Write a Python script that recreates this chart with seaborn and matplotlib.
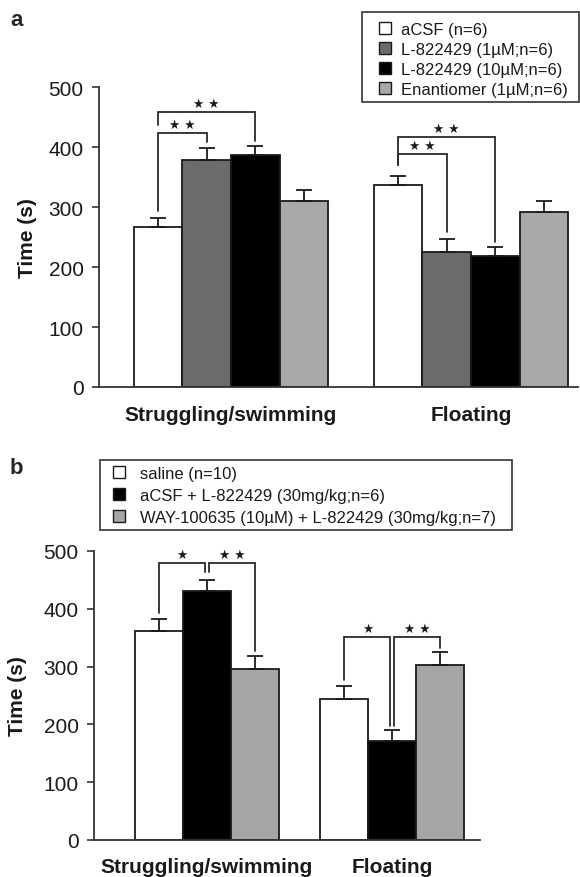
import matplotlib
matplotlib.use("Agg")
import matplotlib.pyplot as plt
import seaborn as sns
import pandas as pd
from matplotlib.patches import Patch, Rectangle

# ---------------- data ----------------
behaviors = ["Struggling/swimming", "Floating"]

groups_a = ["aCSF (n=6)", "L-822429 (1µM;n=6)", "L-822429 (10µM;n=6)", "Enantiomer (1µM;n=6)"]
colors_a = ["#ffffff", "#6b6b6b", "#000000", "#a9a9a9"]
means_a_struggling = [267, 378, 387, 310]
means_a_floating = [337, 225, 218, 291]
sem_a_struggling = [14, 21, 15, 18]
sem_a_floating = [15, 22, 16, 19]

groups_b = ["saline (n=10)", "aCSF + L-822429 (30mg/kg;n=6)",
            "WAY-100635 (10µM) + L-822429 (30mg/kg;n=7)"]
colors_b = ["#ffffff", "#000000", "#a6a6a6"]
means_b_struggling = [362, 431, 296]
means_b_floating = [244, 172, 303]
sem_b_struggling = [21, 18, 22]
sem_b_floating = [23, 18, 23]

yticks = [0, 100, 200, 300, 400, 500]

# significance brackets: (behavior idx, bar i, bar j, top, drop at i, drop at j, label)
brackets_a = [
    (0, 0, 1, 424, 293, 408, "★ ★"),
    (0, 0, 2, 458, 437, 410, "★ ★"),
    (1, 0, 1, 388, 370, 258, "★ ★"),
    (1, 0, 2, 417, 370, 241, "★ ★"),
]
brackets_b = [
    (0, 0, 1, 480, 393, 463, "★"),
    (0, 1, 2, 480, 463, 327, "★ ★"),
    (1, 0, 1, 352, 276, 198, "★"),
    (1, 1, 2, 352, 198, 333, "★ ★"),
]

FONT = "Liberation Sans"
sns.set_theme(style="ticks")
plt.rcParams["font.family"] = [FONT, "DejaVu Sans"]

W, H = 580, 878
fig = plt.figure(figsize=(W / 100, H / 100), dpi=100)


def px_axes(l, r, t, b):
    return fig.add_axes([l / W, 1 - b / H, (r - l) / W, (b - t) / H])


def make_df(groups, s_means, f_means):
    rows = []
    for g, sv, fv in zip(groups, s_means, f_means):
        rows.append((behaviors[0], g, sv))
        rows.append((behaviors[1], g, fv))
    return pd.DataFrame(rows, columns=["behavior", "group", "time"])


def draw_panel(ax, groups, colors, s_means, f_means, s_sem, f_sem, width, xlim,
               brackets, nudge, xpad):
    df = make_df(groups, s_means, f_means)
    sns.barplot(data=df, x="behavior", y="time", hue="group", order=behaviors,
                hue_order=groups, palette=dict(zip(groups, colors)),
                errorbar=None, width=width, gap=0, edgecolor="#1a1a1a",
                linewidth=1.3, ax=ax, legend=False, saturation=1)
    sems = [s_sem, f_sem]
    centers = {}
    bar_conts = list(ax.containers)
    for gi, cont in enumerate(bar_conts):
        for bi, bar in enumerate(cont.patches):
            xc = bar.get_x() + bar.get_width() / 2
            centers[(bi, gi)] = xc
            ax.errorbar(xc, bar.get_height(), yerr=[[0], [sems[bi][gi]]],
                        fmt="none", ecolor="#1a1a1a", elinewidth=1.3,
                        capsize=5.5, capthick=1.3, zorder=3)
    # brackets
    for (bi, i, j, top, di, dj, lab) in brackets:
        xi = centers[(bi, i)]
        xj = centers[(bi, j)]
        if nudge:
            if i == 1:
                xi += nudge
            if j == 1:
                xj -= nudge
        ax.plot([xi, xi, xj, xj], [di, top, top, dj], color="#2a2a2a",
                lw=1.3, clip_on=False, zorder=4, solid_joinstyle="miter")
        ax.text((xi + xj) / 2, top + 3, lab, ha="center", va="bottom",
                fontsize=9, family=["DejaVu Sans"], color="#1a1a1a",
                clip_on=False)
    ax.set_xlim(*xlim)
    ax.set_ylim(0, 500)
    ax.set_yticks(yticks)
    ax.set_yticklabels([str(v) for v in yticks])
    ax.set_xlabel("")
    ax.set_ylabel("Time (s)", fontsize=15, fontweight="bold", color="#1a1a1a")
    sns.despine(ax=ax)
    for sp in ("left", "bottom"):
        ax.spines[sp].set_linewidth(1.3)
        ax.spines[sp].set_color("#333333")
    ax.tick_params(axis="y", length=5, width=1.2, pad=6, labelsize=15,
                   colors="#333333", labelcolor="#1a1a1a")
    ax.tick_params(axis="x", length=0, pad=xpad, labelsize=15)
    for t in ax.get_xticklabels():
        t.set_fontweight("bold")
        t.set_color("#1a1a1a")
    ax.set_facecolor("white")


# ---------------- panel a ----------------
ax_a = px_axes(99, 578, 88, 388)
draw_panel(ax_a, groups_a, colors_a, means_a_struggling, means_a_floating,
           sem_a_struggling, sem_a_floating, 0.81, (-0.55, 1.446), brackets_a, 0, 13)
ax_a.yaxis.set_label_coords(-0.129, 0.5)

# ---------------- panel b ----------------
ax_b = px_axes(94, 480, 552, 841)
draw_panel(ax_b, groups_b, colors_b, means_b_struggling, means_b_floating,
           sem_b_struggling, sem_b_floating, 0.776, (-0.609, 1.472), brackets_b, 0.011, 12)
ax_b.yaxis.set_label_coords(-0.174, 0.5)

# ---------------- legends ----------------
def legend(groups, colors, frame, anchor, spacing, textpad):
    fl, ft, fr, fb = frame
    fig.patches.append(Rectangle((fl / W, 1 - fb / H), (fr - fl) / W, (fb - ft) / H,
                                 transform=fig.transFigure, facecolor="white",
                                 edgecolor="#333333", linewidth=1.2, zorder=0))
    handles = [Patch(facecolor=c, edgecolor="#1a1a1a", linewidth=1.0) for c in colors]
    lg = fig.legend(handles, groups, loc="upper left",
                    bbox_to_anchor=(anchor[0] / W, 1 - anchor[1] / H),
                    bbox_transform=fig.transFigure, frameon=False,
                    fontsize=12, handlelength=0.72, handleheight=0.72,
                    handletextpad=textpad, labelspacing=spacing, borderpad=0,
                    borderaxespad=0)
    for t in lg.get_texts():
        t.set_color("#1a1a1a")
    return lg

legend(groups_a, colors_a, (362, 13, 579, 103), (379, 23), 0.29, 0.62)
legend(groups_b, colors_b, (100, 461, 512, 531), (113, 467), 0.41, 0.9)

fig.text(10 / W, 1 - 20 / H, "a", fontsize=16, fontweight="bold", va="center", ha="left")
fig.text(10 / W, 1 - 469 / H, "b", fontsize=16, fontweight="bold", va="center", ha="left")

fig.savefig("out.png", dpi=100, facecolor="white")
